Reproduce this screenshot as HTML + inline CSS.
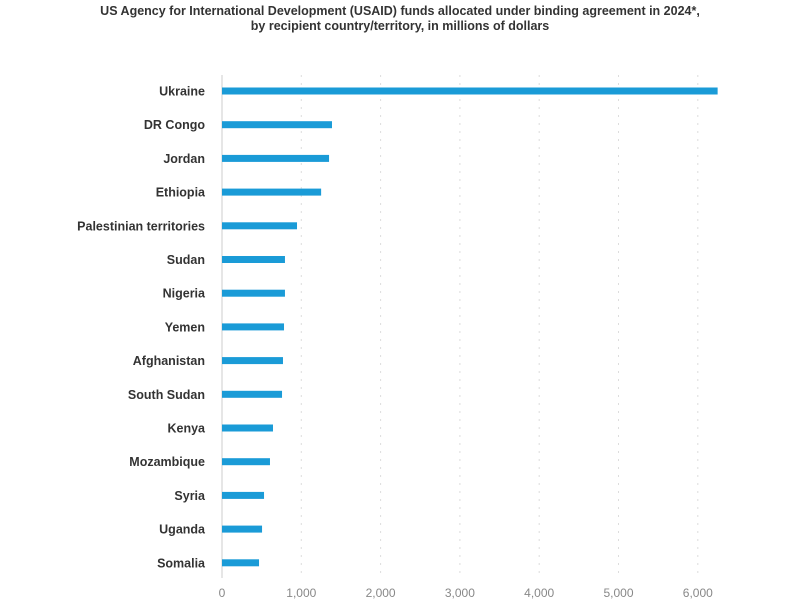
<!DOCTYPE html>
<html><head><meta charset="utf-8"><style>
body{margin:0;background:#fff;}
svg{display:block;font-family:"Liberation Sans",sans-serif;}
</style></head><body>
<svg id="chart" width="800" height="600">
<text x="400" y="15" text-anchor="middle" font-size="12.5" font-weight="bold" fill="#333">US Agency for International Development (USAID) funds allocated under binding agreement in 2024*,</text>
<text x="400" y="30" text-anchor="middle" font-size="12.5" font-weight="bold" fill="#333">by recipient country/territory, in millions of dollars</text>
<g id="grid"></g><g id="bars"></g><g id="labels"></g><g id="ticks"></g>
</svg>
<script>
const categories=["Ukraine","DR Congo","Jordan","Ethiopia","Palestinian territories","Sudan","Nigeria","Yemen","Afghanistan","South Sudan","Kenya","Mozambique","Syria","Uganda","Somalia"];
const values=[6250,1387,1350,1250,946,794,794,782,769,757,643,605,530,505,467];
const tickValues=[0,1000,2000,3000,4000,5000,6000];
const tickLabels=["0","1,000","2,000","3,000","4,000","5,000","6,000"];
const NS="http://www.w3.org/2000/svg";
const x=v=>222+v*0.0793;
const y=i=>91+i*33.7;
function mk(tag,attrs,parent){const e=document.createElementNS(NS,tag);for(const k in attrs)e.setAttribute(k,attrs[k]);document.getElementById(parent).appendChild(e);return e;}
tickValues.forEach((t,i)=>{
  if(i>0){const g=mk("line",{x1:x(t),x2:x(t),y1:75,y2:578,stroke:"#ddd","stroke-dasharray":"2,6"},"grid");
  
  }
  const l=mk("text",{x:x(t),y:597,"text-anchor":"middle","font-size":"12",fill:"#888"},"ticks");
  l.textContent=tickLabels[i];
  
  
});
const ax=mk("line",{x1:222,x2:222,y1:75,y2:578,stroke:"#ccc"},"grid");


categories.forEach((c,i)=>{
  const r=mk("rect",{x:222,y:y(i)-3.5,width:x(values[i])-222,height:7,fill:"#1a9bd7"},"bars");
  
  
  const t=mk("text",{x:205,y:y(i)+4.5,"text-anchor":"end","font-size":"12.5","font-weight":"bold",fill:"#333"},"labels");
  t.textContent=c;
  
  
});
</script>
</body></html>
